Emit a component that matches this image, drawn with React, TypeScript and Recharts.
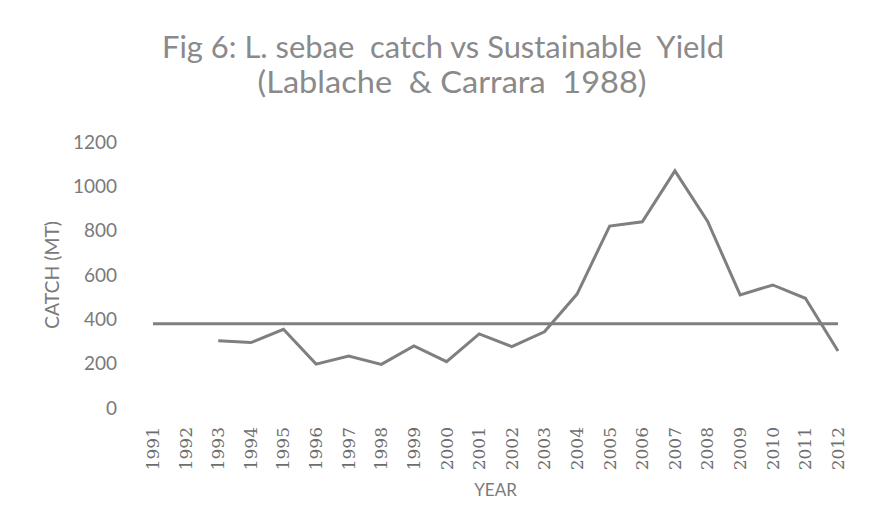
import React from "react";
import { LineChart, Line, XAxis, YAxis } from "recharts";

const years = [
  "1991", "1992", "1993", "1994", "1995", "1996", "1997", "1998", "1999", "2000", "2001",
  "2002", "2003", "2004", "2005", "2006", "2007", "2008", "2009", "2010", "2011", "2012",
];
const catchMt = [
  null, null, 303, 295, 355, 198, 234, 197, 280, 209, 334,
  277, 344, 514, 821, 840, 1070, 843, 510, 555, 495, 257,
];
const sustainableYield = [
  380, 380, 380, 380, 380, 380, 380, 380, 380, 380, 380,
  380, 380, 380, 380, 380, 380, 380, 380, 380, 380, 380,
];
const yTicks = [0, 200, 400, 600, 800, 1000, 1200];
const titleLines = ["Fig 6: L. sebae  catch vs Sustainable  Yield", "(Lablache  & Carrara  1988)"];

const data = years.map((year, i) => ({ year, catch: catchMt[i], msy: sustainableYield[i] }));

const grey = "#7f7f7f";
const textGrey = "#7a7a7a";
const sans = "Lato, 'Open Sans', sans-serif";

const YearTick = (props: any) => {
  const { x, y, payload } = props;
  return (
    <text
      x={x}
      y={y}
      dy="0.35em"
      transform={`rotate(-90, ${x}, ${y})`}
      textAnchor="end"
      fill="#6e6e6e"
      fontSize={17}
      fontFamily="DejaVu Serif"
    >
      {payload.value}
    </text>
  );
};

export default function App() {
  return (
    <div style={{ position: "absolute", left: 0, top: 0, width: 872, height: 531, background: "#fff" }}>
      <svg width={872} height={531} style={{ position: "absolute", left: 0, top: 0 }}>
        <text x={443} y={58} textAnchor="middle" fontSize={30} fontFamily={sans} fill="#8a8a8a" textLength={562} lengthAdjust="spacingAndGlyphs" xmlSpace="preserve">
          {titleLines[0]}
        </text>
        <text x={452} y={93} textAnchor="middle" fontSize={30} fontFamily={sans} fill="#8a8a8a" textLength={389} lengthAdjust="spacingAndGlyphs" xmlSpace="preserve">
          {titleLines[1]}
        </text>
      </svg>
      <div style={{ position: "absolute", left: 0, top: 0 }}>
        <LineChart width={872} height={531} data={data} margin={{ top: 142, right: 34, bottom: 23, left: 20 }}>
          <XAxis
            dataKey="year"
            axisLine={false}
            tickLine={false}
            tickSize={0}
            tickMargin={19}
            interval={0}
            height={100}
            tick={<YearTick />}
            label={{
              content: (p: any) => {
                const vb = p.viewBox;
                return (
                  <text x={vb.x + vb.width / 2} y={vb.y + 88} textAnchor="middle" fontSize={17} fontFamily={sans} fill={textGrey}>
                    YEAR
                  </text>
                );
              },
            }}
          />
          <YAxis
            width={133}
            domain={[0, 1200]}
            ticks={yTicks}
            axisLine={false}
            tickLine={false}
            tickSize={0}
            tickMargin={36}
            tick={{ fill: textGrey, fontSize: 19, fontFamily: sans }}
            label={{
              content: (p: any) => {
                const vb = p.viewBox;
                const cx = vb.x + 32;
                const cy = vb.y + vb.height / 2;
                return (
                  <text x={cx} y={cy} dy="0.35em" transform={`rotate(-90, ${cx}, ${cy})`} textAnchor="middle" fontSize={19} fontFamily={sans} fill={textGrey} textLength={108} lengthAdjust="spacingAndGlyphs">
                    CATCH (MT)
                  </text>
                );
              },
            }}
          />
          <Line dataKey="msy" stroke={grey} strokeWidth={3} dot={false} isAnimationActive={false} />
          <Line dataKey="catch" stroke={grey} strokeWidth={3} dot={false} isAnimationActive={false} />
        </LineChart>
      </div>
    </div>
  );
}
